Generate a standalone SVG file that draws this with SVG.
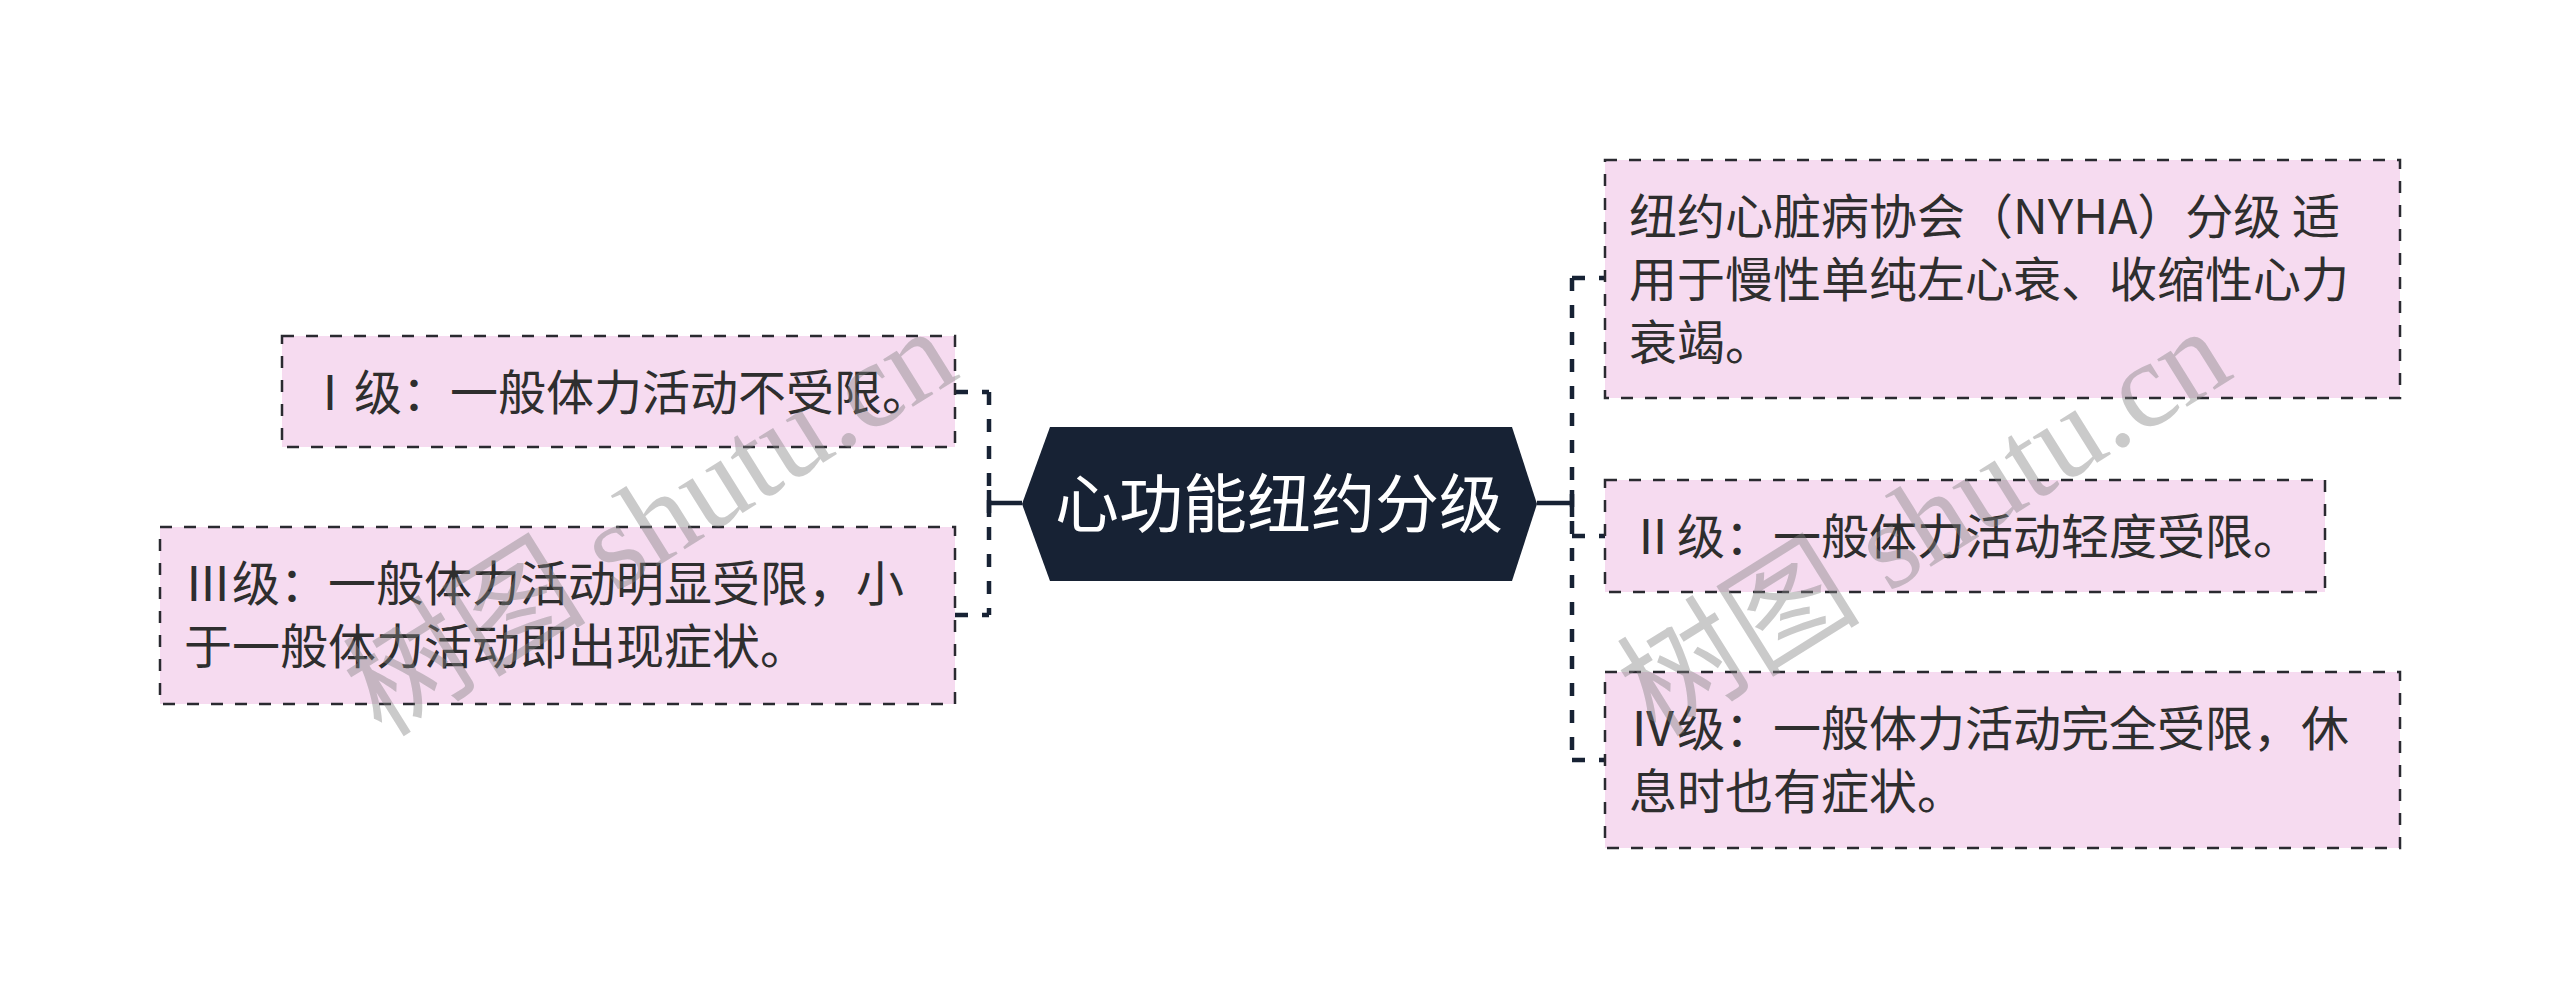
<svg xmlns="http://www.w3.org/2000/svg" width="2560" height="1008" viewBox="0 0 2560 1008">
<style>
.box{fill:#f6dbf0;stroke:#2a2a30;stroke-width:2.5;stroke-dasharray:12 12}
.t{font-family:"Noto Sans CJK SC","Noto Sans",sans-serif;font-size:48px;fill:#2e2e2e}
.ct{font-family:"Noto Sans CJK SC","Noto Sans",sans-serif;font-size:64px;fill:#ffffff}
.dl{fill:none;stroke:#172234;stroke-width:4.5;stroke-dasharray:13 14}
.sl{fill:none;stroke:#172234;stroke-width:4.5}
.wm{font-family:"Liberation Serif","Noto Sans CJK SC",serif;font-size:122px;fill:#808080;fill-opacity:0.42}
</style>
<rect width="2560" height="1008" fill="#ffffff"/>
<g id="connectors">
<path class="dl" d="M989 392 V615"/>
<path class="dl" d="M955 392 H989"/>
<path class="dl" d="M955 615 H989"/>
<path class="sl" d="M989 503 H1022 M989 490 V517"/>
<path class="dl" d="M1572 278 V760"/>
<path class="dl" d="M1572 278 H1605"/>
<path class="dl" d="M1572 536 H1605"/>
<path class="dl" d="M1572 760 H1605"/>
<path class="sl" d="M1537 503 H1572 M1572 490 V517"/>
</g>
<g id="center">
<polygon points="1022,504 1050,427 1512,427 1537,504 1512,581 1050,581" fill="#172234"/>
<text class="ct" x="1279" y="527" text-anchor="middle">心功能纽约分级</text>
</g>
<g id="n1">
<rect class="box" x="282" y="336" width="673" height="111"/>
<text class="t" x="306" y="410">Ⅰ级：一般体力活动不受限。</text>
</g>
<g id="n3">
<rect class="box" x="160" y="527" width="795" height="177"/>
<text class="t" x="184" y="601">Ⅲ级：一般体力活动明显受限，小</text>
<text class="t" x="184" y="664">于一般体力活动即出现症状。</text>
</g>
<g id="nyha">
<rect class="box" x="1605" y="160" width="795" height="238"/>
<text class="t" x="1629" y="234">纽约心脏病协会（NYHA）分级 适</text>
<text class="t" x="1629" y="297">用于慢性单纯左心衰、收缩性心力</text>
<text class="t" x="1629" y="360">衰竭。</text>
</g>
<g id="n2">
<rect class="box" x="1605" y="480" width="720" height="112"/>
<text class="t" x="1629" y="554">Ⅱ级：一般体力活动轻度受限。</text>
</g>
<g id="n4">
<rect class="box" x="1605" y="672" width="795" height="176"/>
<text class="t" x="1629" y="746">Ⅳ级：一般体力活动完全受限，休</text>
<text class="t" x="1629" y="809">息时也有症状。</text>
</g>
<g id="watermark">
<text class="wm" x="650" y="522" text-anchor="middle" dominant-baseline="central" transform="rotate(-32 650 522)">树图 shutu.cn</text>
<text class="wm" x="1924" y="522" text-anchor="middle" dominant-baseline="central" transform="rotate(-32 1924 522)">树图 shutu.cn</text>
</g>
</svg>
